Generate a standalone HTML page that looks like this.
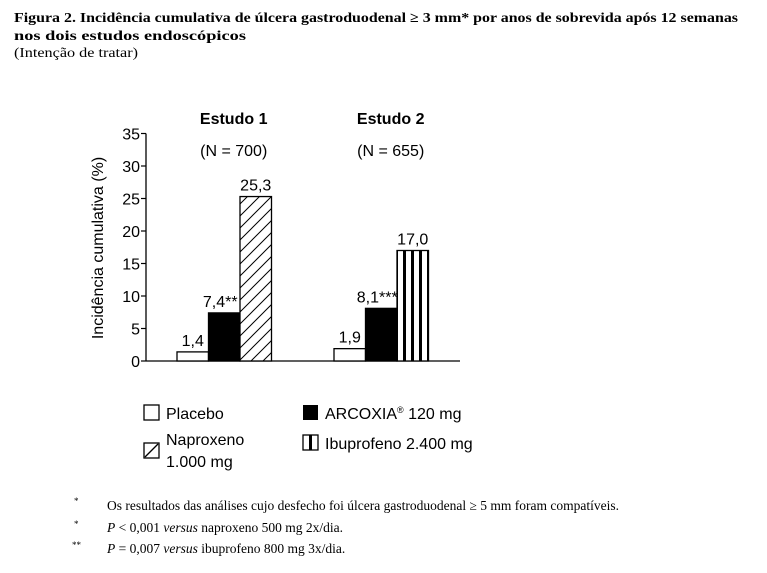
<!DOCTYPE html>
<html><head><meta charset="utf-8"><style>
html,body{margin:0;padding:0;background:#fff;}
svg{display:block;}
.t{font-family:"Liberation Serif",serif;}
.s{font-family:"Liberation Sans",sans-serif;}
</style></head><body>
<svg id="chart" width="767" height="573" viewBox="0 0 767 573" xmlns="http://www.w3.org/2000/svg">
<defs>
<pattern id="hatch" patternUnits="userSpaceOnUse" width="12" height="12">
<path d="M-3,15 L15,-3 M-3,3 L3,-3 M9,15 L15,9" stroke="#000" stroke-width="1"/>
</pattern>
<pattern id="vstripe" patternUnits="userSpaceOnUse" width="8" height="10">
<rect x="3" y="0" width="3" height="10" fill="#000"/>
</pattern>
</defs>
<text class="t" x="14" y="22" font-size="14" font-weight="bold" textLength="724" lengthAdjust="spacingAndGlyphs">Figura 2. Incidência cumulativa de úlcera gastroduodenal ≥ 3 mm* por anos de sobrevida após 12 semanas</text>
<text class="t" x="14" y="40" font-size="14" font-weight="bold" textLength="232" lengthAdjust="spacingAndGlyphs">nos dois estudos endoscópicos</text>
<text class="t" x="14" y="57" font-size="14" textLength="124" lengthAdjust="spacingAndGlyphs">(Intenção de tratar)</text>

<g id="plot"></g>

<g>
<rect x="144" y="405" width="15" height="15" fill="#fff" stroke="#000" stroke-width="1.3"/>
<text class="s" x="166" y="419" font-size="16">Placebo</text>
<rect x="303" y="405" width="15" height="15" fill="#000"/>
<text class="s" x="325" y="419" font-size="16">ARCOXIA<tspan font-size="9" dy="-6">®</tspan><tspan dy="6"> 120 mg</tspan></text>
<rect x="144" y="443" width="15" height="15" fill="#fff" stroke="#000" stroke-width="1.3"/>
<line x1="145" y1="457" x2="158" y2="444" stroke="#000" stroke-width="1.3"/>
<text class="s" x="166" y="445" font-size="16">Naproxeno</text>
<text class="s" x="166" y="467" font-size="16">1.000 mg</text>
<rect x="303" y="435" width="15" height="15" fill="#fff" stroke="#000" stroke-width="1.3"/>
<rect x="309" y="435" width="3" height="15" fill="#000"/>
<text class="s" x="325" y="449" font-size="16">Ibuprofeno 2.400 mg</text>
</g>

<g>
<text class="t" x="74" y="504" font-size="9">*</text>
<text class="t" x="107" y="510" font-size="13.5">Os resultados das análises cujo desfecho foi úlcera gastroduodenal ≥ 5 mm foram compatíveis.</text>
<text class="t" x="74" y="527" font-size="9">*</text>
<text class="t" x="107" y="532" font-size="13.5"><tspan font-style="italic">P</tspan> &lt; 0,001 <tspan font-style="italic">versus</tspan> naproxeno 500 mg 2x/dia.</text>
<text class="t" x="72" y="548" font-size="9">**</text>
<text class="t" x="107" y="553" font-size="13.5"><tspan font-style="italic">P</tspan> = 0,007 <tspan font-style="italic">versus</tspan> ibuprofeno 800 mg 3x/dia.</text>
</g>
</svg>
<script>
const studies = ["Estudo 1", "Estudo 2"];
const studyN = ["(N = 700)", "(N = 655)"];
const placebo = [1.4, 1.9];
const arcoxia = [7.4, 8.1];
const comparator = [25.3, 17.0];
const placeboLabels = ["1,4", "1,9"];
const arcoxiaLabels = ["7,4**", "8,1***"];
const comparatorLabels = ["25,3", "17,0"];
const yTicks = [0, 5, 10, 15, 20, 25, 30, 35];

const NS = "http://www.w3.org/2000/svg";
const g = document.getElementById("plot");
const y0 = 361, pxPerUnit = 227.5 / 35;
const axisX = 146, axisEnd = 460;
const groupStart = [177, 334], barW = 31.5;
function y(v){ return y0 - v * pxPerUnit; }
function mk(tag, attrs){ const e = document.createElementNS(NS, tag); for (const k in attrs) e.setAttribute(k, attrs[k]); g.appendChild(e); return e; }

let ax = mk("line", {x1: axisX, y1: y(35), x2: axisX, y2: y0, stroke: "#000", "stroke-width": 1.3});


let bx = mk("line", {x1: axisX, y1: y0, x2: axisEnd, y2: y0, stroke: "#000", "stroke-width": 1.3});



yTicks.forEach(t => {
  const tk = mk("line", {x1: axisX - 5, y1: y(t), x2: axisX, y2: y(t), stroke: "#000", "stroke-width": 1.2});
  
  
  const lb = mk("text", {x: axisX - 6, y: y(t) + 6, "text-anchor": "end", "font-size": 16, "font-family": "Liberation Sans, sans-serif"});
  lb.textContent = t;
  
  
});
const yt = mk("text", {x: 0, y: 0, "text-anchor": "middle", "font-size": 16, "font-family": "Liberation Sans, sans-serif", transform: "translate(103,248) rotate(-90)"});
yt.textContent = "Incidência cumulativa (%)";



const fills = ["#fff", "#000"];
studies.forEach((s, i) => {
  const cx = groupStart[i] + barW * 1.8;
  const st = mk("text", {x: cx, y: 124, "text-anchor": "middle", "font-size": 16, "font-weight": "bold", "font-family": "Liberation Sans, sans-serif"});
  st.textContent = s;
  
  
  const sn = mk("text", {x: cx, y: 156, "text-anchor": "middle", "font-size": 16, "font-family": "Liberation Sans, sans-serif"});
  sn.textContent = studyN[i];
  
  

  const vals = [placebo[i], arcoxia[i], comparator[i]];
  const labs = [placeboLabels[i], arcoxiaLabels[i], comparatorLabels[i]];
  const compFill = i === 0 ? "url(#hatch)" : "url(#vstripe)";
  const fillArr = ["#fff", "#000", compFill];
  const names = ["bar-placebo", "bar-arcoxia", i === 0 ? "bar-naproxeno" : "bar-ibuprofeno"];
  vals.forEach((v, j) => {
    const x = groupStart[i] + j * barW;
    if (j === 2) {
      const bg = mk("rect", {x: x, y: y(v), width: barW, height: y0 - y(v), fill: "#fff"});
      
      
    }
    const r = mk("rect", {x: x, y: y(v), width: barW, height: y0 - y(v), fill: fillArr[j], stroke: "#000", "stroke-width": 1.3});
    
    
    const lx = j === 1 ? x + barW / 2 - 4 : x + barW / 2;
    const t = mk("text", {x: lx, y: y(v) - 6, "text-anchor": "middle", "font-size": 16, "font-family": "Liberation Sans, sans-serif"});
    t.textContent = labs[j];
    
    
  });
});
</script>
</body></html>
